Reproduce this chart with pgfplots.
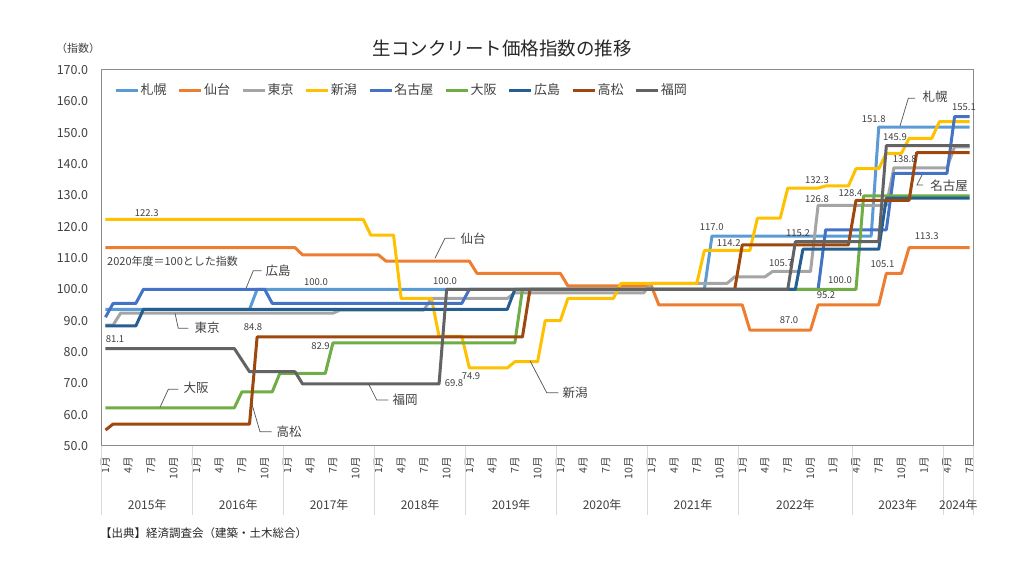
\documentclass[border=0pt]{standalone}
\usepackage{fontspec}
\setmainfont{Noto Sans CJK JP}
\usepackage{pgfplots}
\pgfplotsset{compat=1.18}
\definecolor{sapporo}{HTML}{5B9BD5}
\definecolor{sendai}{HTML}{ED7D31}
\definecolor{tokyo}{HTML}{A5A5A5}
\definecolor{niigata}{HTML}{FFC000}
\definecolor{nagoya}{HTML}{4472C4}
\definecolor{osaka}{HTML}{70AD47}
\definecolor{hiroshima}{HTML}{255E91}
\definecolor{takamatsu}{HTML}{9E480E}
\definecolor{fukuoka}{HTML}{636363}
\definecolor{labelcol}{HTML}{404040}
\definecolor{leadcol}{HTML}{595959}
\definecolor{framecol}{HTML}{8C8C8C}
\definecolor{sepcol}{HTML}{D9D9D9}
\newcommand{\fs}[1]{\fontsize{#1bp}{#1bp}\selectfont}
\tikzset{
  dl/.style={font=\fs{9.5}, text=labelcol, inner sep=0pt},
  cl/.style={font=\fs{12.5}, text=labelcol, inner sep=0pt},
  ld/.style={draw=leadcol, line width=0.75bp}
}
\begin{document}
\begin{tikzpicture}
\begin{axis}[
  at={(101.7bp,130bp)}, anchor=south west,
  scale only axis, width=871.8bp, height=376bp,
  xmin=-0.5, xmax=114.5, ymin=50, ymax=170,
  axis line style={draw=framecol, line width=1bp},
  ytick={50,60,...,170},
  xtick={0,3,...,114},
  xticklabels={1月,4月,7月,10月,1月,4月,7月,10月,1月,4月,7月,10月,1月,4月,7月,10月,1月,4月,7月,10月,1月,4月,7月,10月,1月,4月,7月,10月,1月,4月,7月,10月,1月,4月,7月,10月,1月,4月,7月},
  major tick length=0pt,
  /pgf/number format/.cd, fixed, fixed zerofill, precision=1, assume math mode=true,
  /pgfplots/.cd,
  yticklabel style={anchor=east, inner sep=0pt, xshift=-13.5bp, font=\fs{12.5}, text=labelcol},
  xticklabel style={yshift=-11bp, rotate=90, anchor=east, inner sep=0pt, font=\fs{10.5}, text=labelcol},
  no markers,
  every axis plot/.append style={line width=3bp, line join=round},
  legend columns=9,
  legend entries={札幌,仙台,東京,新潟,名古屋,大阪,広島,高松,福岡},
  legend image code/.code={\draw[#1, line width=3bp] (0bp,0bp) -- (22bp,0bp);},
  legend style={at={(axis description cs:0.0145,0.9468)}, anchor=west, draw=none, fill=none, inner sep=0pt,
    font=\fs{13}, text=labelcol, nodes={inner sep=1.2bp},
    /tikz/every even column/.append style={column sep=10bp}},
]
% 札幌
\addplot[sapporo] coordinates {(0,93.6) (19,93.6) (20,100.0) (79,100.0) (80,117.0) (101,117.0) (102,151.8) (114,151.8)};
% 仙台
\addplot[sendai] coordinates {(0,113.3) (25,113.3) (26,111.0) (36,111.0) (37,109.0) (48,109.0) (49,105.1) (60,105.1) (61,101.1) (72,101.1) (73,95.0) (84,95.0) (85,87.0) (93,87.0) (94,95.0) (102,95.0) (103,105.1) (105,105.1) (106,113.3) (114,113.3)};
% 東京
\addplot[tokyo] coordinates {(0,88.6) (1,88.6) (2,92.4) (30,92.4) (31,93.4) (42,93.4) (43,97.1) (53,97.1) (54,98.9) (71,98.9) (72,101.9) (82,101.9) (83,104.0) (87,104.0) (88,105.7) (93,105.7) (94,126.8) (103,126.8) (104,138.8) (111,138.8) (112,145.5) (114,145.5)};
% 新潟
\addplot[niigata] coordinates {(0,122.3) (34,122.3) (35,117.3) (38,117.3) (39,97.1) (43,97.1) (44,85.0) (47,85.0) (48,74.9) (53,74.9) (54,76.9) (57,76.9) (58,90.0) (60,90.0) (61,97.1) (67,97.1) (68,101.9) (78,101.9) (79,112.4) (85,112.4) (86,122.7) (89,122.7) (90,132.3) (94,132.3) (95,133.0) (98,133.0) (99,138.5) (102,138.5) (103,143.4) (105,143.4) (106,148.2) (109,148.2) (110,153.5) (114,153.5)};
% 名古屋
\addplot[nagoya] coordinates {(0,91.1) (1,95.5) (4,95.5) (5,100.0) (21,100.0) (22,95.5) (47,95.5) (48,100.0) (94,100.0) (95,119.0) (103,119.0) (104,137.0) (111,137.0) (112,155.1) (114,155.1)};
% 大阪
\addplot[osaka] coordinates {(0,62.2) (17,62.2) (18,67.3) (22,67.3) (23,73.2) (29,73.2) (30,82.9) (54,82.9) (55,100.0) (99,100.0) (100,129.8) (114,129.8)};
% 広島
\addplot[hiroshima] coordinates {(0,88.3) (4,88.3) (5,93.6) (53,93.6) (54,100.0) (91,100.0) (92,112.8) (102,112.8) (103,129.1) (114,129.1)};
% 高松
\addplot[takamatsu] coordinates {(0,55.1) (1,57.0) (19,57.0) (20,84.8) (55,84.8) (56,100.0) (83,100.0) (84,114.2) (98,114.2) (99,128.4) (106,128.4) (107,143.6) (114,143.6)};
% 福岡
\addplot[fukuoka] coordinates {(0,81.1) (17,81.1) (18,77.4) (19,73.7) (25,73.7) (26,69.8) (44,69.8) (45,100.0) (90,100.0) (91,115.2) (102,115.2) (103,145.9) (114,145.9)};
\end{axis}
% year separators
\foreach \b in {101.7,192.7,283.7,374.6,465.6,556.6,647.5,738.5,852.2,943.2,973.5}
  \draw[sepcol, line width=0.75bp] (\b bp,129.5bp) -- (\b bp,61bp);
% year labels
\foreach \x/\t in {147.2/2015年,238.2/2016年,329.1/2017年,420.1/2018年,511.1/2019年,602.1/2020年,693.0/2021年,795.4/2022年,897.7/2023年,958.4/2024年}
  \node[font=\fs{12}, text=labelcol, inner sep=0pt] at (\x bp,71bp) {\t};
% title, unit, source
\node[font=\fs{18.5}, text=black!85, inner sep=0pt] at (502bp,528bp) {生コンクリート価格指数の推移};
\node[font=\fs{11}, text=labelcol, inner sep=0pt] at (78bp,528bp) {（指数）};
\node[font=\fs{11.5}, text=black!85, inner sep=0pt, anchor=west] at (100bp,43bp) {【出典】経済調査会（建築・土木総合）};
\node[font=\fs{11}, text=labelcol, inner sep=0pt, anchor=west] at (107bp,314.3bp) {2020年度＝100とした指数};
% data labels
\node[dl] at (146.7bp,363.3bp) {122.3};
\node[dl] at (115bp,236.7bp) {81.1};
\node[dl] at (253bp,249.3bp) {84.8};
\node[dl] at (316bp,294.3bp) {100.0};
\node[dl] at (320.5bp,230.3bp) {82.9};
\node[dl] at (445bp,295bp) {100.0};
\node[dl] at (454bp,192.7bp) {69.8};
\node[dl] at (471bp,200bp) {74.9};
\node[dl] at (711.7bp,349.3bp) {117.0};
\node[dl] at (728.7bp,333.3bp) {114.2};
\node[dl] at (781bp,312.7bp) {105.7};
\node[dl] at (798bp,343.3bp) {115.2};
\node[dl] at (817bp,396bp) {132.3};
\node[dl] at (817bp,377bp) {126.8};
\node[dl] at (850.5bp,382.7bp) {128.4};
\node[dl] at (840bp,296bp) {100.0};
\node[dl] at (826bp,281bp) {95.2};
\node[dl] at (789bp,256bp) {87.0};
\node[dl] at (882.5bp,312bp) {105.1};
\node[dl] at (926.7bp,340bp) {113.3};
\node[dl] at (873.7bp,456.7bp) {151.8};
\node[dl] at (895bp,439.3bp) {145.9};
\node[dl] at (904.7bp,417bp) {138.8};
\node[dl] at (964bp,469.3bp) {155.1};
% callouts
\draw[ld] (246bp,287.7bp) -- (253.3bp,305.3bp) -- (261.7bp,305.3bp);
\node[cl] at (278bp,305.3bp) {広島};
\draw[ld] (175bp,262.7bp) -- (178.3bp,247.7bp) -- (188.3bp,247.7bp);
\node[cl] at (207bp,248.3bp) {東京};
\draw[ld] (160bp,168.7bp) -- (168.3bp,186.7bp) -- (178.3bp,186.7bp);
\node[cl] at (196bp,188bp) {大阪};
\draw[ld] (251.7bp,172.7bp) -- (260bp,144.3bp) -- (271.7bp,144.3bp);
\node[cl] at (289bp,144.3bp) {高松};
\draw[ld] (368.3bp,192.7bp) -- (376.7bp,176bp) -- (388.3bp,176bp);
\node[cl] at (405bp,176bp) {福岡};
\draw[ld] (435bp,317.7bp) -- (445bp,337.7bp) -- (455bp,337.7bp);
\node[cl] at (473bp,337.7bp) {仙台};
\draw[ld] (530bp,215.3bp) -- (546.7bp,183.3bp) -- (558.3bp,183.3bp);
\node[cl] at (575bp,183.3bp) {新潟};
\draw[ld] (900bp,450bp) -- (908.3bp,477.7bp) -- (915bp,477.7bp);
\node[cl] at (935bp,479.3bp) {札幌};
\draw[ld] (922bp,401bp) -- (917bp,391bp) -- (923bp,391bp);
\node[cl] at (949bp,390bp) {名古屋};
\pgfresetboundingbox
\path[use as bounding box] (0,0) rectangle (1024bp,576bp);
\end{tikzpicture}
\end{document}
